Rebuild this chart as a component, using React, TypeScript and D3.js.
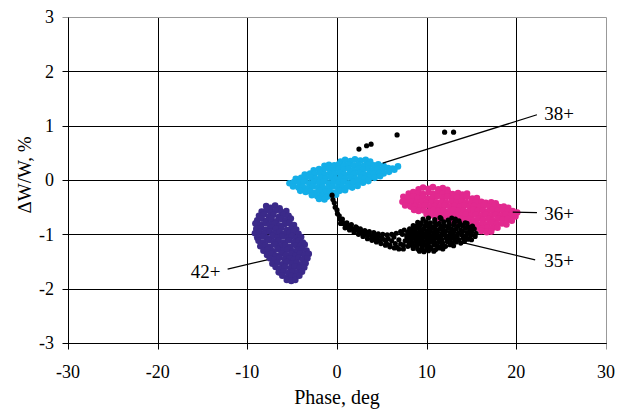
import * as d3 from "d3";

// ---- data ----
const xTicks = [-30, -20, -10, 0, 10, 20, 30];
const yTicks = [-3, -2, -1, 0, 1, 2, 3];

// series "42+"
const s42: [number, number][] = [
  [-7.9,-0.48],[-7.4,-0.51],[-6.9,-0.47],[-6.4,-0.52],
  [-8.4,-0.58],[-7.85,-0.55],[-7.35,-0.6],[-6.8,-0.56],[-6.2,-0.59],[-5.65,-0.57],
  [-8.7,-0.66],[-8.15,-0.63],[-7.6,-0.67],[-7.1,-0.64],[-6.5,-0.68],[-5.95,-0.64],[-5.4,-0.66],
  [-8.9,-0.74],[-8.4,-0.71],[-7.85,-0.75],[-7.3,-0.72],[-6.75,-0.76],[-6.2,-0.72],[-5.7,-0.74],[-5.15,-0.71],
  [-9.1,-0.8],[-8.55,-0.83],[-8.0,-0.79],[-7.5,-0.82],[-6.9,-0.8],[-6.4,-0.84],[-5.8,-0.81],[-5.3,-0.79],[-4.8,-0.83],
  [-9.0,-0.9],[-8.45,-0.88],[-7.9,-0.91],[-7.3,-0.87],[-6.8,-0.9],[-6.2,-0.88],[-5.6,-0.92],[-5.1,-0.89],[-4.55,-0.91],
  [-9.15,-0.98],[-8.6,-0.96],[-8.1,-0.99],[-7.5,-0.95],[-7.0,-0.98],[-6.4,-0.96],[-5.9,-0.99],[-5.3,-0.97],[-4.8,-0.95],[-4.3,-0.99],
  [-8.9,-1.06],[-8.3,-1.04],[-7.8,-1.07],[-7.2,-1.03],[-6.65,-1.06],[-6.1,-1.04],[-5.5,-1.07],[-5.0,-1.03],[-4.5,-1.06],[-4.0,-1.05],
  [-8.75,-1.12],[-8.2,-1.15],[-7.6,-1.11],[-7.05,-1.14],[-6.5,-1.12],[-5.9,-1.15],[-5.35,-1.11],[-4.8,-1.14],[-4.3,-1.12],[-3.8,-1.15],
  [-8.55,-1.22],[-8.0,-1.2],[-7.45,-1.23],[-6.9,-1.19],[-6.3,-1.22],[-5.75,-1.2],[-5.2,-1.23],[-4.6,-1.2],[-4.1,-1.22],[-3.6,-1.19],
  [-8.2,-1.3],[-7.7,-1.28],[-7.1,-1.31],[-6.6,-1.27],[-6.0,-1.3],[-5.5,-1.28],[-4.9,-1.31],[-4.4,-1.29],[-3.9,-1.27],[-3.4,-1.3],
  [-7.8,-1.38],[-7.3,-1.36],[-6.8,-1.39],[-6.2,-1.35],[-5.7,-1.38],[-5.1,-1.36],[-4.6,-1.39],[-4.1,-1.35],[-3.6,-1.38],[-3.15,-1.36],
  [-7.5,-1.44],[-6.95,-1.47],[-6.4,-1.43],[-5.8,-1.46],[-5.3,-1.44],[-4.8,-1.47],[-4.3,-1.43],[-3.8,-1.46],[-3.3,-1.44],
  [-7.2,-1.54],[-6.65,-1.52],[-6.1,-1.55],[-5.6,-1.51],[-5.0,-1.54],[-4.5,-1.52],[-4.0,-1.55],[-3.5,-1.53],
  [-6.85,-1.6],[-6.3,-1.63],[-5.8,-1.6],[-5.2,-1.62],[-4.7,-1.59],[-4.2,-1.62],[-3.65,-1.61],
  [-6.5,-1.7],[-5.95,-1.68],[-5.4,-1.71],[-4.9,-1.68],[-4.4,-1.7],[-3.9,-1.69],
  [-6.1,-1.76],[-5.6,-1.79],[-5.1,-1.77],[-4.6,-1.78],[-4.2,-1.76],
  [-5.6,-1.84],[-5.1,-1.86],[-4.65,-1.84],
];

// series "38+"
const s38: [number, number][] = [
  [0.4,0.34],[0.9,0.37],[1.5,0.35],[2.0,0.38],[2.6,0.36],[3.2,0.37],[3.7,0.34],
  [-1.4,0.26],[-0.9,0.28],[-0.3,0.27],[0.2,0.29],[0.8,0.26],[1.3,0.28],[1.9,0.27],[2.4,0.29],[3.0,0.26],[3.5,0.28],[4.1,0.27],[4.6,0.29],[5.2,0.26],
  [-2.6,0.18],[-2.0,0.2],[-1.5,0.19],[-0.9,0.21],[-0.4,0.18],[0.2,0.2],[0.7,0.19],[1.3,0.21],[1.8,0.18],[2.4,0.2],[2.9,0.19],[3.5,0.21],[4.0,0.18],[4.6,0.2],[5.1,0.19],[5.7,0.22],[6.2,0.21],[6.8,0.25],
  [-3.6,0.1],[-3.0,0.12],[-2.5,0.11],[-1.9,0.13],[-1.4,0.1],[-0.8,0.12],[-0.3,0.11],[0.3,0.13],[0.8,0.1],[1.4,0.12],[1.9,0.11],[2.5,0.13],[3.0,0.1],[3.6,0.12],[4.1,0.11],[4.7,0.13],[5.2,0.12],[5.8,0.15],[6.4,0.19],
  [-4.6,0.02],[-4.0,0.04],[-3.5,0.03],[-2.9,0.05],[-2.4,0.02],[-1.8,0.04],[-1.3,0.03],[-0.7,0.05],[-0.2,0.02],[0.4,0.04],[0.9,0.03],[1.5,0.05],[2.0,0.02],[2.6,0.04],[3.1,0.03],[3.7,0.05],[4.2,0.04],[4.8,0.07],
  [-5.3,-0.06],[-4.8,-0.04],[-4.2,-0.05],[-3.7,-0.03],[-3.1,-0.06],[-2.6,-0.04],[-2.0,-0.05],[-1.5,-0.03],[-0.9,-0.06],[-0.4,-0.04],[0.2,-0.05],[0.7,-0.03],[1.3,-0.06],[1.8,-0.04],[2.4,-0.03],[2.9,-0.05],[3.5,-0.02],
  [-4.9,-0.12],[-4.3,-0.14],[-3.8,-0.13],[-3.2,-0.15],[-2.7,-0.12],[-2.1,-0.14],[-1.6,-0.13],[-1.0,-0.15],[-0.5,-0.12],[0.1,-0.14],[0.6,-0.13],[1.2,-0.12],[1.7,-0.14],[2.3,-0.11],
  [-4.1,-0.2],[-3.5,-0.22],[-3.0,-0.21],[-2.4,-0.23],[-1.9,-0.2],[-1.3,-0.22],[-0.8,-0.21],[-0.2,-0.23],[0.3,-0.2],[0.9,-0.19],
  [-2.8,-0.28],[-2.2,-0.3],[-1.7,-0.29],[-1.1,-0.31],[-0.6,-0.28],[-0.1,-0.27],
  [-2.0,-0.35],[-1.4,-0.36],
];

// series "36+"
const s36: [number, number][] = [
  [9.1,-0.17],[9.6,-0.14],[10.2,-0.16],[10.7,-0.13],[11.3,-0.17],[11.8,-0.15],[12.3,-0.18],
  [8.0,-0.25],[8.5,-0.22],[9.1,-0.24],[9.6,-0.26],[10.2,-0.23],[10.7,-0.25],[11.3,-0.22],[11.8,-0.25],[12.4,-0.23],[12.9,-0.26],[13.5,-0.24],[14.0,-0.27],[14.5,-0.25],
  [7.4,-0.31],[7.9,-0.33],[8.5,-0.3],[9.0,-0.33],[9.6,-0.31],[10.1,-0.34],[10.7,-0.32],[11.2,-0.3],[11.8,-0.33],[12.3,-0.31],[12.9,-0.34],[13.4,-0.32],[14.0,-0.33],[14.5,-0.31],[15.1,-0.34],[15.6,-0.33],
  [7.3,-0.4],[7.8,-0.42],[8.4,-0.39],[8.9,-0.41],[9.5,-0.4],[10.0,-0.42],[10.6,-0.39],[11.1,-0.41],[11.7,-0.4],[12.2,-0.42],[12.8,-0.39],[13.3,-0.41],[13.9,-0.4],[14.4,-0.42],[15.0,-0.39],[15.5,-0.41],[16.1,-0.4],[16.6,-0.42],[17.2,-0.41],[17.7,-0.43],
  [7.6,-0.47],[8.2,-0.49],[8.7,-0.48],[9.3,-0.5],[9.8,-0.47],[10.4,-0.49],[10.9,-0.48],[11.5,-0.5],[12.0,-0.47],[12.6,-0.49],[13.1,-0.48],[13.7,-0.5],[14.2,-0.47],[14.8,-0.49],[15.3,-0.48],[15.9,-0.5],[16.4,-0.47],[17.0,-0.49],[17.5,-0.48],[18.1,-0.5],[18.6,-0.49],[19.1,-0.51],
  [8.6,-0.55],[9.1,-0.57],[9.7,-0.56],[10.2,-0.58],[10.8,-0.55],[11.3,-0.57],[11.9,-0.56],[12.4,-0.58],[13.0,-0.55],[13.5,-0.57],[14.1,-0.56],[14.6,-0.58],[15.2,-0.55],[15.7,-0.57],[16.3,-0.56],[16.8,-0.58],[17.4,-0.55],[17.9,-0.57],[18.5,-0.56],[19.0,-0.58],[19.6,-0.57],[20.1,-0.6],
  [10.0,-0.63],[10.6,-0.65],[11.1,-0.64],[11.7,-0.66],[12.2,-0.63],[12.8,-0.65],[13.3,-0.64],[13.9,-0.66],[14.4,-0.63],[15.0,-0.65],[15.5,-0.64],[16.1,-0.66],[16.6,-0.63],[17.2,-0.65],[17.7,-0.64],[18.3,-0.66],[18.8,-0.63],[19.4,-0.65],[19.9,-0.67],
  [11.4,-0.71],[11.9,-0.73],[12.5,-0.72],[13.0,-0.74],[13.6,-0.71],[14.1,-0.73],[14.7,-0.72],[15.2,-0.74],[15.8,-0.71],[16.3,-0.73],[16.9,-0.72],[17.4,-0.74],[18.0,-0.71],[18.5,-0.73],[19.0,-0.72],[19.5,-0.75],
  [12.9,-0.79],[13.4,-0.81],[14.0,-0.8],[14.5,-0.82],[15.1,-0.79],[15.6,-0.81],[16.2,-0.8],[16.7,-0.82],[17.3,-0.79],[17.8,-0.81],[18.4,-0.8],[18.9,-0.82],
  [14.6,-0.87],[15.1,-0.89],[15.7,-0.88],[16.2,-0.9],[16.8,-0.87],[17.3,-0.89],[17.9,-0.88],
  [16.1,-0.94],[16.7,-0.96],[17.2,-0.95],
];

// series "35+": the arc from x~0 to x~8, the dense knot at x 8..15, and a few stray points above
const s35: [number, number][] = [
  [-0.55,-0.28],[-0.45,-0.36],[-0.3,-0.42],[-0.2,-0.5],[0.0,-0.55],[0.05,-0.62],[0.25,-0.66],[0.3,-0.72],
  [0.55,-0.75],[0.7,-0.8],[1.0,-0.82],[1.2,-0.87],[1.5,-0.86],[1.75,-0.9],[2.0,-0.92],[2.2,-0.88],
  [2.45,-0.95],[2.7,-0.93],[2.9,-0.98],[3.2,-0.96],[3.4,-1.02],[3.6,-0.99],[3.9,-1.05],[4.1,-1.01],
  [4.35,-1.08],[4.6,-1.04],[4.8,-1.12],[5.0,-1.06],[5.3,-1.1],[5.5,-1.16],[5.7,-1.08],[5.9,-1.2],
  [6.1,-1.12],[6.35,-1.05],[6.5,-1.17],[6.7,-1.24],[6.9,-1.1],[7.1,-1.18],[7.3,-1.0],[7.4,-1.27],
  [7.6,-1.12],[7.8,-1.05],[7.9,-1.22],
  [0.6,-0.72],[1.1,-0.79],[1.6,-0.82],[2.1,-0.86],[2.6,-0.9],[3.1,-0.93],[3.6,-0.95],[4.1,-0.97],
  [4.6,-0.99],[5.1,-1.0],[5.6,-1.01],[6.1,-1.0],[6.6,-0.98],[7.1,-0.95],[7.5,-0.92],
  [0.4,-0.8],[0.9,-0.88],[1.4,-0.92],[1.9,-0.96],[2.4,-1.0],[2.9,-1.04],[3.4,-1.08],[3.9,-1.11],
  [4.4,-1.14],[4.9,-1.17],[5.4,-1.2],[5.9,-1.23],[6.4,-1.25],[6.9,-1.27],[7.4,-1.2],
  [9.6,-0.72],[10.2,-0.7],[10.9,-0.73],[11.6,-0.71],[12.4,-0.74],[13.2,-0.72],
  [9.0,-0.78],[9.4,-0.79],[9.9,-0.77],[10.4,-0.79],[10.9,-0.78],[11.4,-0.8],[11.9,-0.77],[12.5,-0.79],[13.1,-0.78],[13.7,-0.8],[14.3,-0.79],
  [8.5,-0.84],[8.9,-0.85],[9.3,-0.83],[9.8,-0.85],[10.2,-0.84],[10.7,-0.86],[11.1,-0.83],[11.6,-0.85],[12.0,-0.84],[12.5,-0.86],[13.0,-0.83],[13.5,-0.85],[14.0,-0.84],[14.6,-0.86],[15.1,-0.85],
  [8.1,-0.9],[8.5,-0.91],[8.9,-0.89],[9.3,-0.91],[9.7,-0.9],[10.2,-0.92],[10.6,-0.89],[11.0,-0.91],[11.5,-0.9],[11.9,-0.92],[12.4,-0.89],[12.8,-0.91],[13.3,-0.9],[13.8,-0.92],[14.3,-0.89],[14.8,-0.91],[15.3,-0.9],
  [7.9,-0.96],[8.3,-0.97],[8.7,-0.95],[9.1,-0.97],[9.5,-0.96],[9.9,-0.98],[10.4,-0.95],[10.8,-0.97],[11.2,-0.96],[11.7,-0.98],[12.1,-0.95],[12.6,-0.97],[13.0,-0.96],[13.5,-0.98],[14.0,-0.95],[14.5,-0.97],[15.0,-0.96],[15.5,-0.98],
  [7.8,-1.02],[8.2,-1.03],[8.6,-1.01],[9.0,-1.03],[9.4,-1.02],[9.8,-1.04],[10.3,-1.01],[10.7,-1.03],[11.1,-1.02],[11.6,-1.04],[12.0,-1.01],[12.5,-1.03],[12.9,-1.02],[13.4,-1.04],[13.9,-1.01],[14.4,-1.03],[14.9,-1.02],[15.4,-1.04],
  [7.9,-1.08],[8.3,-1.09],[8.7,-1.07],[9.1,-1.09],[9.5,-1.08],[10.0,-1.1],[10.4,-1.07],[10.8,-1.09],[11.3,-1.08],[11.7,-1.1],[12.2,-1.07],[12.6,-1.09],[13.1,-1.08],[13.6,-1.1],[14.1,-1.07],[14.6,-1.09],[15.0,-1.1],
  [8.0,-1.14],[8.4,-1.15],[8.8,-1.13],[9.2,-1.15],[9.6,-1.14],[10.1,-1.16],[10.5,-1.13],[10.9,-1.15],[11.4,-1.14],[11.8,-1.16],[12.3,-1.13],[12.8,-1.15],[13.3,-1.14],[13.8,-1.16],[14.2,-1.13],
  [8.2,-1.2],[8.6,-1.21],[9.0,-1.19],[9.5,-1.21],[9.9,-1.2],[10.3,-1.22],[10.8,-1.19],[11.2,-1.21],[11.7,-1.2],[12.1,-1.22],[12.6,-1.19],[13.0,-1.21],
  [8.5,-1.26],[9.0,-1.27],[9.5,-1.25],[10.0,-1.27],[10.5,-1.26],[11.0,-1.28],[11.4,-1.25],[11.8,-1.27],
  [9.2,-1.31],[9.7,-1.32],[10.2,-1.3],[10.8,-1.31],
  [11.5,-0.69],[12.8,-0.7],[13.6,-0.75],[14.5,-0.8],[15.1,-0.86],
  [2.45,0.57],[3.3,0.63],[3.8,0.66],[6.7,0.83],[12.0,0.88],[13.0,0.88],
];

// label callouts: text, leader from (x1,y1) to (x2,y2), text at (tx,ty)
const callouts = [
  { text: "38+", x1: 5.1, y1: 0.31, x2: 22.3, y2: 1.2, tx: 23.1, ty: 1.22, anchor: "start" },
  { text: "36+", x1: 19.6, y1: -0.59, x2: 22.3, y2: -0.6, tx: 23.1, ty: -0.61, anchor: "start" },
  { text: "35+", x1: 13.7, y1: -1.14, x2: 22.1, y2: -1.47, tx: 23.1, ty: -1.47, anchor: "start" },
  { text: "42+", x1: -7.8, y1: -1.47, x2: -12.2, y2: -1.64, tx: -13.0, ty: -1.69, anchor: "end" },
];

const W = 626;
const H = 409;
const left = 68, right = 606, top = 17, bottom = 343;
const font = "Liberation Serif";

export default function App() {
  const x = d3.scaleLinear().domain([-30, 30]).range([left, right]);
  const y = d3.scaleLinear().domain([-3, 3]).range([bottom, top]);
  const px = (v: number) => Math.round(x(v)) + 0.5;
  const py = (v: number) => Math.round(y(v)) + 0.5;

  const series = [
    { data: s42, color: "#3b2a8a", r: 3.3 },
    { data: s38, color: "#14aee8", r: 3.3 },
    { data: s36, color: "#e2298f", r: 3.3 },
    { data: s35, color: "#000000", r: 2.6 },
  ];

  return (
    <svg width={W} height={H} style={{ position: "absolute", left: 0, top: 0, background: "#fff" }}>
      {/* grid */}
      {xTicks.map((t) => (
        <line key={"gx" + t} x1={px(t)} x2={px(t)} y1={py(3)} y2={py(-3) + 6}
          stroke={t === 30 ? "#999" : "#000"} strokeWidth={1} />
      ))}
      {yTicks.map((t) => (
        <line key={"gy" + t} x1={px(-30) - 6} x2={px(30)} y1={py(t)} y2={py(t)}
          stroke={t === 3 ? "#999" : "#000"} strokeWidth={1} />
      ))}
      <line x1={px(-30)} x2={px(-30)} y1={py(3)} y2={py(-3)} stroke="#000" />
      <line x1={px(-30)} x2={px(30)} y1={py(-3)} y2={py(-3)} stroke="#000" />

      {/* points */}
      {series.map((s, i) => (
        <g key={i} fill={s.color}>
          {s.data.map((d, j) => (
            <circle key={j} cx={x(d[0])} cy={y(d[1])} r={s.r} />
          ))}
        </g>
      ))}

      {/* callouts */}
      {callouts.map((c) => (
        <g key={c.text}>
          <line x1={x(c.x1)} y1={y(c.y1)} x2={x(c.x2)} y2={y(c.y2)} stroke="#000" strokeWidth={1.2} />
          <text x={x(c.tx)} y={y(c.ty)} dy="0.35em" textAnchor={c.anchor as any}
            fontFamily={font} fontSize={19}>{c.text}</text>
        </g>
      ))}

      {/* tick labels */}
      {xTicks.map((t) => (
        <text key={"tx" + t} x={x(t)} y={y(-3) + 35} textAnchor="middle"
          fontFamily={font} fontSize={18}>{t}</text>
      ))}
      {yTicks.map((t) => (
        <text key={"ty" + t} x={left - 14} y={y(t)} dy="0.35em" textAnchor="end"
          fontFamily={font} fontSize={18}>{t}</text>
      ))}

      {/* axis titles */}
      <text x={(left + right) / 2} y={404} textAnchor="middle" fontFamily={font} fontSize={20}>
        Phase, deg
      </text>
      <text transform={`translate(31,${y(0) - 5}) rotate(-90)`} textAnchor="middle"
        fontFamily={font} fontSize={19}>
        ΔW/W, %
      </text>
    </svg>
  );
}
